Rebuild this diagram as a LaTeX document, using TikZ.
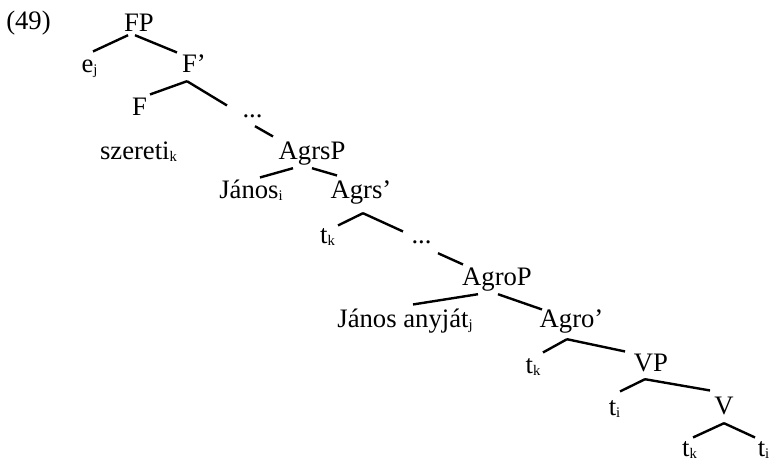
\documentclass[tikz,border=0pt]{standalone}
\usepackage{fontspec}
\setmainfont{Liberation Serif}
\usetikzlibrary{calc}
\newcommand{\idx}[1]{\raisebox{-1.5pt}{\fontsize{11}{12}\selectfont #1}}

\begin{document}
\begin{tikzpicture}[x=0.75pt, y=-0.75pt, line width=1.8pt]
\tikzset{lbl/.style={font=\fontsize{20}{24}\selectfont, text height=13.5pt, text depth=5pt, inner sep=1pt, anchor=base}}
\useasboundingbox (0,0) rectangle (773,461);

\node[lbl] (num) at (28.5,29) {(49)};

\node[lbl] (FP) at (139,31) {FP};
\node[lbl] (ej) at (89.5,72) {e\idx{j}};
\node[lbl] (Fbar) at (194,72) {F’};
\node[lbl] (F) at (139.5,115) {F};
\node[lbl] (dotsA) at (252.5,117) {...};
\node[lbl] (szereti) at (138.5,159) {szereti\idx{k}};
\node[lbl] (AgrsP) at (312,159) {AgrsP};
\node[lbl] (Janos) at (251,198) {János\idx{i}};
\node[lbl] (Agrsbar) at (361,198) {Agrs’};
\node[lbl] (tkA) at (327.5,243) {t\idx{k}};
\node[lbl] (dotsB) at (421.5,243) {...};
\node[lbl] (AgroP) at (497,285) {AgroP};
\node[lbl] (anyjat) at (405,327) {János anyját\idx{j}};
\node[lbl] (Agrobar) at (571.5,327) {Agro’};
\node[lbl] (tkB) at (533,373) {t\idx{k}};
\node[lbl] (VP) at (651,371) {VP};
\node[lbl] (tiA) at (614.5,415) {t\idx{i}};
\node[lbl] (V) at (724,414) {V};
\node[lbl] (tkC) at (689.5,456) {t\idx{k}};
\node[lbl] (tiB) at (763.5,456) {t\idx{i}};

% branches
\draw ($(FP.south)+(-11,-5)$) -- ($(ej.north)+(3.5,0)$);
\draw ($(FP.south)+(-4,-5)$) -- ($(Fbar.north)+(-17,1)$);
\draw ($(Fbar.south)+(-7,0)$) -- ($(F.north)+(10.5,0)$);
\draw ($(Fbar.south)+(-7,0)$) -- ($(dotsA.north)+(-25.5,9)$);
\draw ($(dotsA.south)+(2.5,0)$) -- ($(AgrsP.north)+(-39,-2)$);
\draw ($(AgrsP.south)+(-19,0)$) -- ($(Janos.north)+(9,0)$);
\draw ($(AgrsP.south)+(0,0)$) -- ($(Agrsbar.north)+(-24,-2)$);
\draw ($(Agrsbar.south)+(2,6)$) -- ($(tkA.north)+(10.5,3)$);
\draw ($(Agrsbar.south)+(2,6)$) -- ($(dotsB.north)+(-18.5,9)$);
\draw ($(dotsB.south)+(16.5,1)$) -- ($(AgroP.north)+(-34,0)$);
\draw ($(AgroP.south)+(-19,0)$) -- ($(anyjat.north)+(8,-2)$);
\draw ($(AgroP.south)+(1,0)$) -- ($(Agrobar.north)+(-29.5,3)$);
\draw ($(Agrobar.south)+(-4.5,3)$) -- ($(tkB.north)+(10,0)$);
\draw ($(Agrobar.south)+(-4.5,3)$) -- ($(VP.north)+(-26,1)$);
\draw ($(VP.south)+(-6,-1)$) -- ($(tiA.north)+(5.5,-3)$);
\draw ($(VP.south)+(-6,-1)$) -- ($(V.north)+(-14,-3)$);
\draw (V.south) -- ($(tkC.north)+(3.5,2)$);
\draw (V.south) -- ($(tiB.north)+(-8.5,2)$);
\end{tikzpicture}
\end{document}
